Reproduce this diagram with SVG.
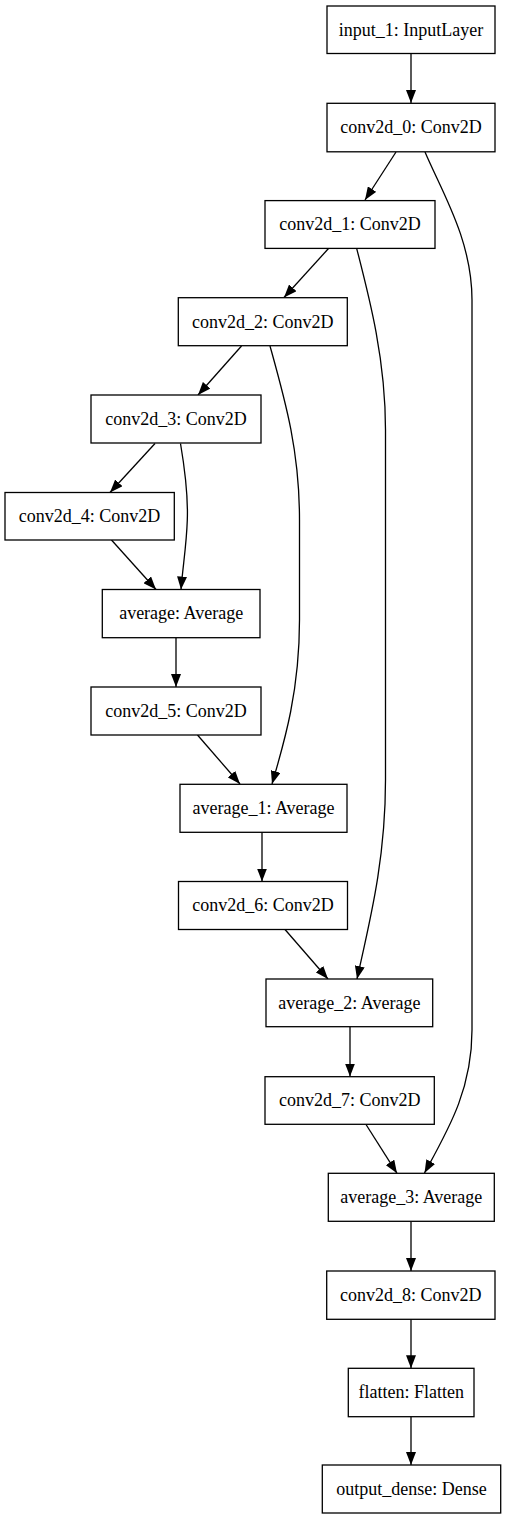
<svg xmlns="http://www.w3.org/2000/svg" width="506" height="1520" viewBox="0 0 506 1520">
<style>
.n rect{fill:#fff;stroke:#000;stroke-width:1.3}
.n text{font-family:"Liberation Serif","Times New Roman",serif;font-size:18px;text-anchor:middle;fill:#000}
.e path{fill:none;stroke:#000;stroke-width:1.3}
</style>
<defs>
<marker id="ah" viewBox="0 0 13 10" refX="13" refY="5" markerWidth="13" markerHeight="10" markerUnits="userSpaceOnUse" orient="auto">
<path d="M0,0 L13,5 L0,10 z" fill="#000"/>
</marker>
</defs>
<rect width="506" height="1520" fill="#fff"/>
<g class="e">
<path d="M411,53 L411,103" marker-end="url(#ah)"/>
<path d="M396,152 L365,200" marker-end="url(#ah)"/>
<path d="M425,152 C442,192 472,240 472,300 L472,1030 C472,1090 448,1130 424.5,1173" marker-end="url(#ah)"/>
<path d="M328.5,248.5 L284,297.5" marker-end="url(#ah)"/>
<path d="M356.7,248.5 C370,300 385.5,360 385.5,430 L385.5,780 C385.5,860 370,920 357,979" marker-end="url(#ah)"/>
<path d="M241.5,346 L198,395" marker-end="url(#ah)"/>
<path d="M270,346 C285,400 299.5,450 299.5,520 L299.5,620 C299.5,690 285,740 272,784" marker-end="url(#ah)"/>
<path d="M155,443.5 L110,492.5" marker-end="url(#ah)"/>
<path d="M180.5,443.5 C185,470 188,500 187.3,520 C186.5,545 183,565 181,589.5" marker-end="url(#ah)"/>
<path d="M111.5,540 L156,589.5" marker-end="url(#ah)"/>
<path d="M176,638 L176,687" marker-end="url(#ah)"/>
<path d="M197.5,735 L240,784" marker-end="url(#ah)"/>
<path d="M262,832 L262,881.5" marker-end="url(#ah)"/>
<path d="M285,929.5 L328,979" marker-end="url(#ah)"/>
<path d="M350,1027 L350,1076.5" marker-end="url(#ah)"/>
<path d="M366,1124.5 L397,1173.3" marker-end="url(#ah)"/>
<path d="M411,1221.5 L411,1271" marker-end="url(#ah)"/>
<path d="M411,1319 L411,1368.3" marker-end="url(#ah)"/>
<path d="M411,1416.5 L411,1465" marker-end="url(#ah)"/>
</g>
<g id="input_1" class="n"><rect x="327" y="6" width="168" height="47.5"/><text x="411" y="35.5">input_1: InputLayer</text></g>
<g id="conv2d_0" class="n"><rect x="327" y="103.3" width="168" height="48.5"/><text x="411" y="133">conv2d_0: Conv2D</text></g>
<g id="conv2d_1" class="n"><rect x="265" y="200.6" width="170" height="47.8"/><text x="350" y="230">conv2d_1: Conv2D</text></g>
<g id="conv2d_2" class="n"><rect x="178.3" y="297.7" width="169" height="48"/><text x="262.8" y="327.5">conv2d_2: Conv2D</text></g>
<g id="conv2d_3" class="n"><rect x="91" y="395" width="170" height="48"/><text x="176" y="424.5">conv2d_3: Conv2D</text></g>
<g id="conv2d_4" class="n"><rect x="5" y="492.5" width="169.3" height="47.5"/><text x="89.6" y="522">conv2d_4: Conv2D</text></g>
<g id="average" class="n"><rect x="102.3" y="589.5" width="157.7" height="48.2"/><text x="181.2" y="619">average: Average</text></g>
<g id="conv2d_5" class="n"><rect x="91" y="687" width="170" height="48"/><text x="176" y="716.5">conv2d_5: Conv2D</text></g>
<g id="average_1" class="n"><rect x="180" y="784.3" width="167" height="48"/><text x="263.5" y="814">average_1: Average</text></g>
<g id="conv2d_6" class="n"><rect x="178.5" y="881.5" width="169" height="48"/><text x="263" y="911">conv2d_6: Conv2D</text></g>
<g id="average_2" class="n"><rect x="266" y="979" width="166.7" height="47.7"/><text x="349.4" y="1008.5">average_2: Average</text></g>
<g id="conv2d_7" class="n"><rect x="265" y="1076.7" width="169.3" height="47.6"/><text x="349.7" y="1106">conv2d_7: Conv2D</text></g>
<g id="average_3" class="n"><rect x="328.3" y="1173.3" width="166" height="48"/><text x="411.3" y="1203">average_3: Average</text></g>
<g id="conv2d_8" class="n"><rect x="326.7" y="1271" width="168.3" height="48.3"/><text x="410.8" y="1300.5">conv2d_8: Conv2D</text></g>
<g id="flatten" class="n"><rect x="348.3" y="1368.3" width="125.7" height="48.4"/><text x="411.2" y="1398">flatten: Flatten</text></g>
<g id="output_dense" class="n"><rect x="322.3" y="1465" width="178.4" height="48"/><text x="411.5" y="1494.5">output_dense: Dense</text></g>
</svg>
